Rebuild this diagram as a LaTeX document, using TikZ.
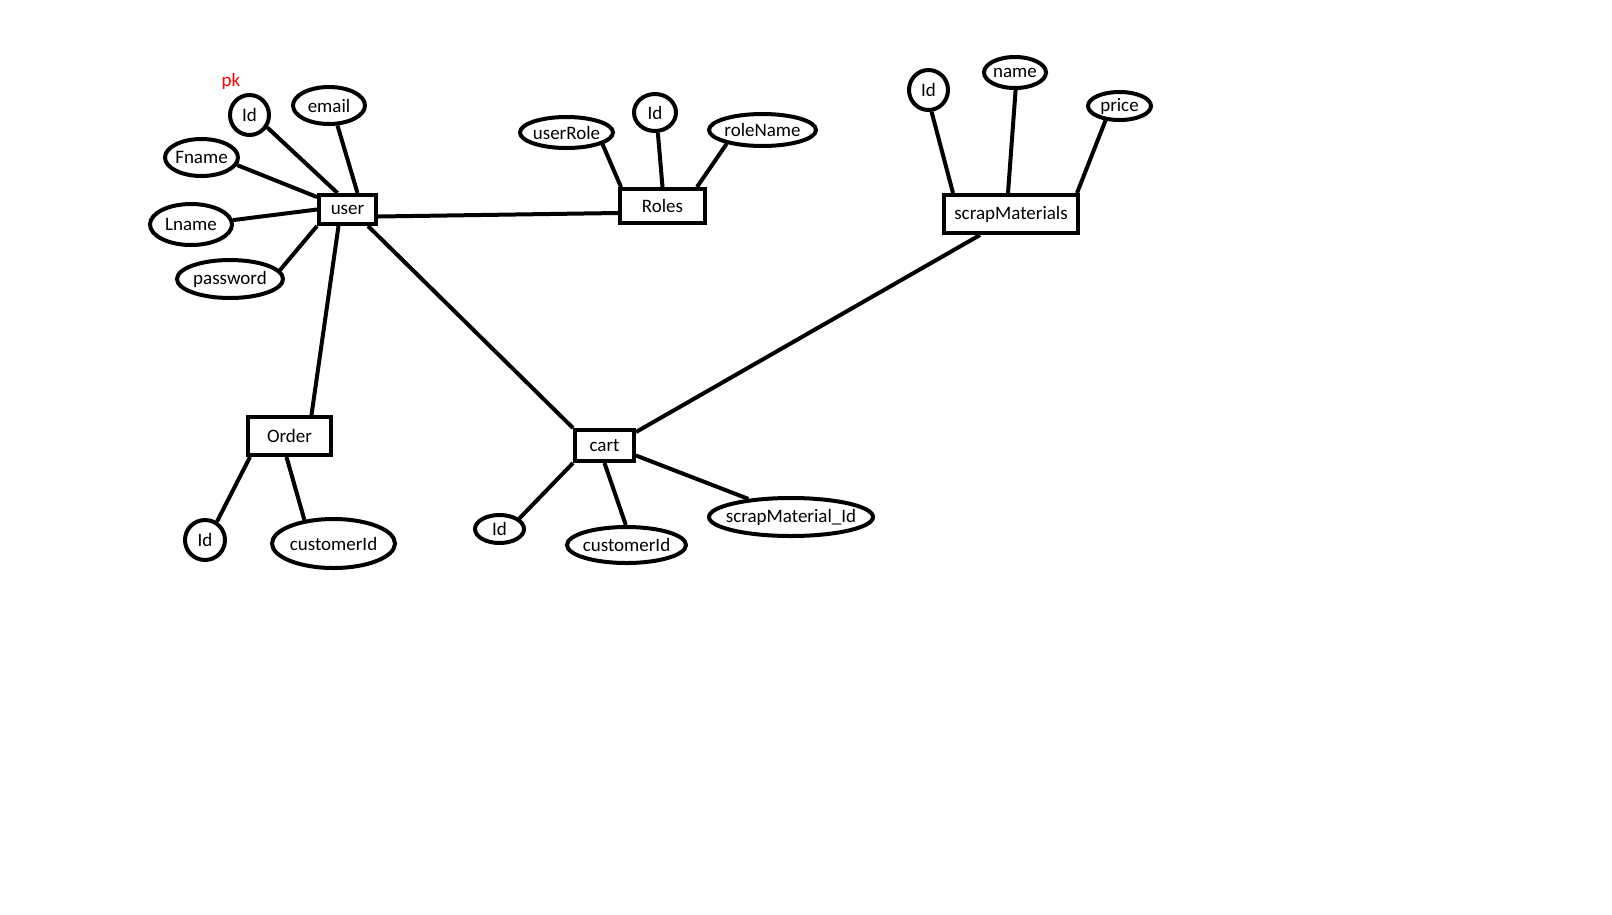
\documentclass[tikz,border=0pt]{standalone}
\usepackage{fontspec}
\setmainfont{Carlito}
\usetikzlibrary{shapes.geometric}

\begin{document}
\begin{tikzpicture}[x=1pt,y=-1pt,line width=4pt,font=\fontsize{19}{22}\selectfont]
	\tikzstyle{entity}=[draw,rectangle,inner sep=0pt]
	\tikzstyle{attr}=[draw,ellipse,inner sep=0pt]
	\useasboundingbox (0,0) rectangle (1612,914);
	\node[entity,minimum width=57pt,minimum height=29pt] (user) at (347.5,209.5) {user};
	\node[entity,minimum width=85pt,minimum height=34pt] (roles) at (662.5,206) {Roles};
	\node[entity,minimum width=134pt,minimum height=38pt] (scrap) at (1011,214) {scrapMaterials};
	\node[entity,minimum width=83pt,minimum height=38pt] (order) at (289.5,436) {Order};
	\node[entity,minimum width=59pt,minimum height=31pt] (cart) at (604.5,445.5) {cart};
	\node[text=red] (pk) at (231,81) {pk};
	\node[attr,minimum width=39pt,minimum height=40pt,label=center:Id] (uId) at (249.5,115) {};
	\node[attr,minimum width=72pt,minimum height=37pt,label=center:email] (email) at (329,105.5) {};
	\node[attr,minimum width=73pt,minimum height=37pt,label=center:Fname] (fname) at (201.5,157.5) {};
	\node[attr,minimum width=82pt,minimum height=41pt,label=center:Lname] (lname) at (191,224.5) {};
	\node[attr,minimum width=106pt,minimum height=38pt,label=center:password] (pwd) at (230,279) {};
	\node[attr,minimum width=93pt,minimum height=31pt,label=center:userRole] (urole) at (566.5,132.5) {};
	\node[attr,minimum width=42pt,minimum height=37pt,label=center:Id] (rId) at (655,112.5) {};
	\node[attr,minimum width=107pt,minimum height=32pt,label=center:roleName] (rname) at (762.5,130) {};
	\node[attr,minimum width=39pt,minimum height=40pt,label=center:Id] (sId) at (928.5,90) {};
	\node[attr,minimum width=62pt,minimum height=31pt,label=center:name] (sname) at (1015,72.5) {};
	\node[attr,minimum width=63pt,minimum height=28pt,label=center:price] (price) at (1119.5,106) {};
	\node[attr,minimum width=40pt,minimum height=40pt,label=center:Id] (oId) at (205,540) {};
	\node[attr,minimum width=123pt,minimum height=49pt,label=center:customerId] (oCust) at (333.5,543.5) {};
	\node[attr,minimum width=49pt,minimum height=28pt,label=center:Id] (cId) at (499.5,529) {};
	\node[attr,minimum width=119pt,minimum height=36pt,label=center:customerId] (cCust) at (626.5,545) {};
	\node[attr,minimum width=164pt,minimum height=38pt,label=center:scrapMaterial\_Id] (cScrap) at (791,517) {};
	\draw (uId.-35) -- ([xshift=-10pt]user.north);
	\draw (email.-67) -- ([xshift=10pt]user.north);
	\draw (fname.-12) -- ([yshift=-4pt]user.north west);
	\draw (lname.6) -- (user.west);
	\draw (pwd.10) -- (user.south west);
	\draw ([yshift=-7pt]user.east) -- ([yshift=-7pt]roles.west);
	\draw ([xshift=-9pt]user.south) -- ([xshift=22pt]order.north);
	\draw ([xshift=-10pt]user.south east) -- (cart.north west);
	\draw (urole.-18) -- ([xshift=3pt]roles.north west);
	\draw (rId.-82) -- (roles.north);
	\draw (rname.201) -- ([xshift=-10pt]roles.north east);
	\draw (sId.-82) -- ([xshift=11pt]scrap.north west);
	\draw (sname.-88) -- ([xshift=-3pt]scrap.north);
	\draw (price.226) -- ([xshift=-3pt]scrap.north east);
	\draw ([yshift=-4pt]cart.north east) -- ([xshift=-31pt]scrap.south);
	\draw ([xshift=4pt]order.south west) -- (oId.57);
	\draw ([xshift=-3pt]order.south) -- (oCust.141);
	\draw (cart.south west) -- (cId.28);
	\draw (cart.south) -- (cCust.92);
	\draw ([yshift=-10pt]cart.east) -- (cScrap.157);
\end{tikzpicture}
\end{document}
